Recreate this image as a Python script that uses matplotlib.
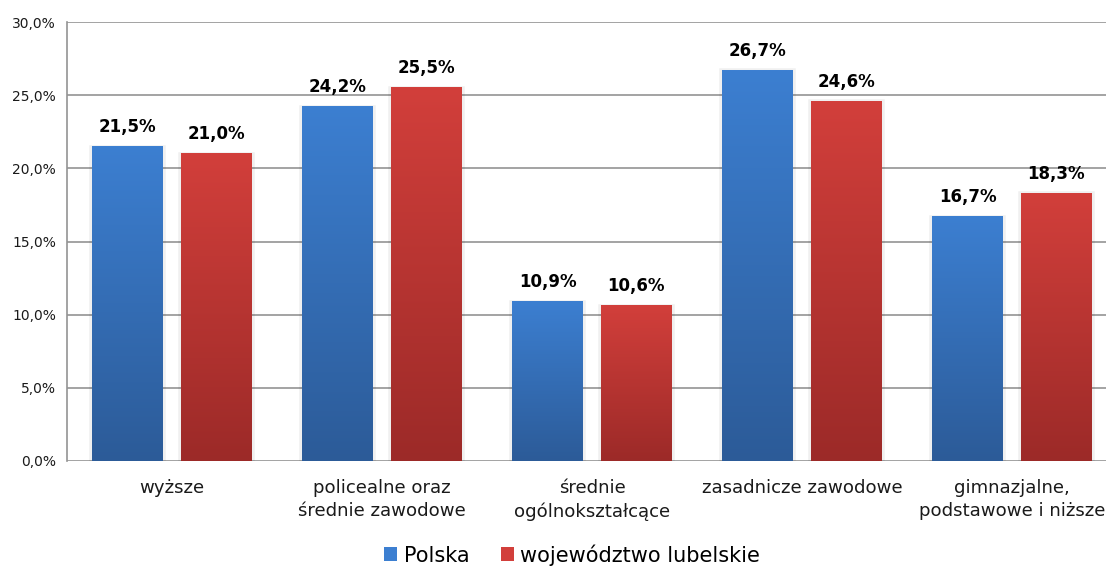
import matplotlib
matplotlib.use('Agg')
import matplotlib.pyplot as plt
import numpy as np
from matplotlib.colors import LinearSegmentedColormap
from matplotlib.patches import Patch
from matplotlib.ticker import FuncFormatter, MultipleLocator

categories = ['wyższe', 'policealne oraz\nśrednie zawodowe', 'średnie\nogólnokształcące',
              'zasadnicze zawodowe', 'gimnazjalne,\npodstawowe i niższe']
polska = [21.5, 24.2, 10.9, 26.7, 16.7]
lubelskie = [21.0, 25.5, 10.6, 24.6, 18.3]
series_names = ['Polska', 'województwo lubelskie']

# top / bottom colours of the bar gradients
blue = ('#3c7fd1', '#2c5b98')
red = ('#d23f3b', '#9c2a28')


def pct(v, pos=None):
    return f'{v:.1f}%'.replace('.', ',')


W, H = 1106, 568
fig = plt.figure(figsize=(W / 100, H / 100), dpi=100)
# plot area runs past the right edge, like the original
ax = fig.add_axes([67 / W, (H - 461) / H, (1117 - 67) / W, (461 - 22) / H])

x = np.arange(len(categories))
width = 0.338
offset = 0.21

grad = np.linspace(1, 0, 256).reshape(-1, 1)
for vals, cols, sgn in [(polska, blue, -1), (lubelskie, red, 1)]:
    bars = ax.bar(x + sgn * offset, vals, width, color=cols[0], zorder=2)
    cmap = LinearSegmentedColormap.from_list('g', [cols[1], cols[0]])
    for b, v in zip(bars, vals):
        x0, w, h = b.get_x(), b.get_width(), b.get_height()
        # soft shadow
        ax.add_patch(plt.Rectangle((x0, 0), w, h - 0.08, color='#000000',
                                   alpha=0.06, lw=4, zorder=1.5))
        ax.imshow(grad, extent=[x0, x0 + w, 0, h], aspect='auto', cmap=cmap,
                  origin='upper', zorder=3, interpolation='bilinear')
        ax.annotate(pct(v), (x0 + w / 2, h), xytext=(0, 7.5), textcoords='offset points',
                    ha='center', va='bottom', fontsize=12, fontweight='bold',
                    color='black', zorder=4)

ax.set_xlim(-0.5, len(categories) - 0.5)
ax.set_ylim(0, 30)
ax.yaxis.set_major_locator(MultipleLocator(5))
ax.yaxis.set_major_formatter(FuncFormatter(pct))
ax.set_xticks(x)
ax.set_xticklabels(categories, fontsize=13.1, color='#1a1a1a', linespacing=1.35)
ax.tick_params(axis='x', length=0, pad=13)
ax.tick_params(axis='y', length=0, pad=8, labelsize=10, labelcolor='#1a1a1a')

ax.set_axisbelow(True)
ax.grid(axis='y', color='#939393', lw=1.2, zorder=0)
for s in ['top', 'right', 'bottom']:
    ax.spines[s].set_visible(False)
ax.spines['left'].set_color('#939393')
ax.spines['left'].set_linewidth(1.2)

handles = [Patch(facecolor=blue[0], edgecolor='none'), Patch(facecolor=red[0], edgecolor='none')]
fig.legend(handles, series_names, loc='center', bbox_to_anchor=(572 / W, 1 - 555 / H),
           ncol=2, frameon=False, fontsize=15, handlelength=0.65, handleheight=0.65,
           handletextpad=0.3, columnspacing=1.5)

fig.savefig('out.png', dpi=100)
